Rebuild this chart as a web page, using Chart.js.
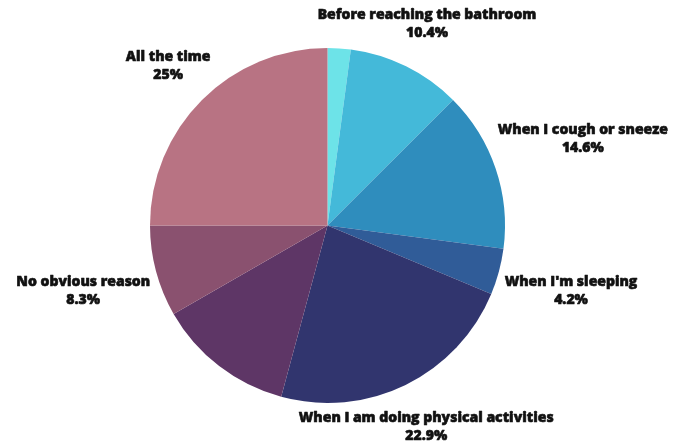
<!DOCTYPE html>
<html>
<head>
<meta charset="utf-8">
<script src="https://cdn.jsdelivr.net/npm/chart.js@4"></script>
<style>
  html, body { margin: 0; padding: 0; background: #ffffff; }
  canvas { display: block; }
</style>
</head>
<body>
<canvas id="leakChart" width="685" height="443"></canvas>
<script>
// When does leaking happen? (share of answers, %)
const categories = [
    "",
    "Before reaching the bathroom",
    "When I cough or sneeze",
    "When I'm sleeping",
    "When I am doing physical activities",
    "",
    "No obvious reason",
    "All the time"
];
const shares = [2.1, 10.4, 14.6, 4.2, 22.9, 12.5, 8.3, 25];
const sliceColors = ["#6de3e8", "#44b9d9", "#2f8dbd", "#305c98", "#31356e", "#5e3666", "#8a516f", "#b87383"];

// draws "name / value%" outside each named slice, pushed out along the mid angle
const outsideLabels = {
    id: "outsideLabels",
    afterDatasetsDraw(chart) {
        const ctx = chart.ctx;
        const arcs = chart.getDatasetMeta(0).data;
        const lineH = 18;
        const gap = 6;
        ctx.save();
        ctx.font = "800 14px 'Open Sans'";
        ctx.fillStyle = "#111111";
        ctx.strokeStyle = "#111111";
        ctx.lineWidth = 0.6;
        ctx.lineJoin = "round";
        ctx.textAlign = "center";
        ctx.textBaseline = "middle";
        arcs.forEach((arc, i) => {
            const name = categories[i];
            if (!name) return;
            const pct = shares[i] + "%";
            const mid = (arc.startAngle + arc.endAngle) / 2;
            const ux = Math.cos(mid), uy = Math.sin(mid);
            const hw = Math.max(ctx.measureText(name).width, ctx.measureText(pct).width) / 2;
            const hh = lineH;
            const target = arc.outerRadius + gap;
            // smallest distance where the text box clears the pie
            let lo = 0, hi = 600;
            for (let k = 0; k < 40; k++) {
                const d = (lo + hi) / 2;
                const nx = Math.max(0, Math.abs(ux * d) - hw);
                const ny = Math.max(0, Math.abs(uy * d) - hh);
                if (Math.hypot(nx, ny) >= target) hi = d; else lo = d;
            }
            const cx = arc.x + ux * hi;
            const cy = arc.y + uy * hi;
            [[name, cy - lineH / 2], [pct, cy + lineH / 2]].forEach(([txt, ty]) => {
                ctx.strokeText(txt, cx, ty);
                ctx.fillText(txt, cx, ty);
            });
        });
        ctx.restore();
    }
};

new Chart(document.getElementById("leakChart"), {
    type: "pie",
    data: {
        labels: categories,
        datasets: [{
            data: shares,
            backgroundColor: sliceColors,
            borderWidth: 0
        }]
    },
    options: {
        responsive: false,
        animation: false,
        layout: {
            padding: { top: 48, bottom: 40, left: 150, right: 180 }
        },
        plugins: {
            legend: { display: false },
            tooltip: { enabled: false }
        }
    },
    plugins: [outsideLabels]
});
</script>
</body>
</html>
